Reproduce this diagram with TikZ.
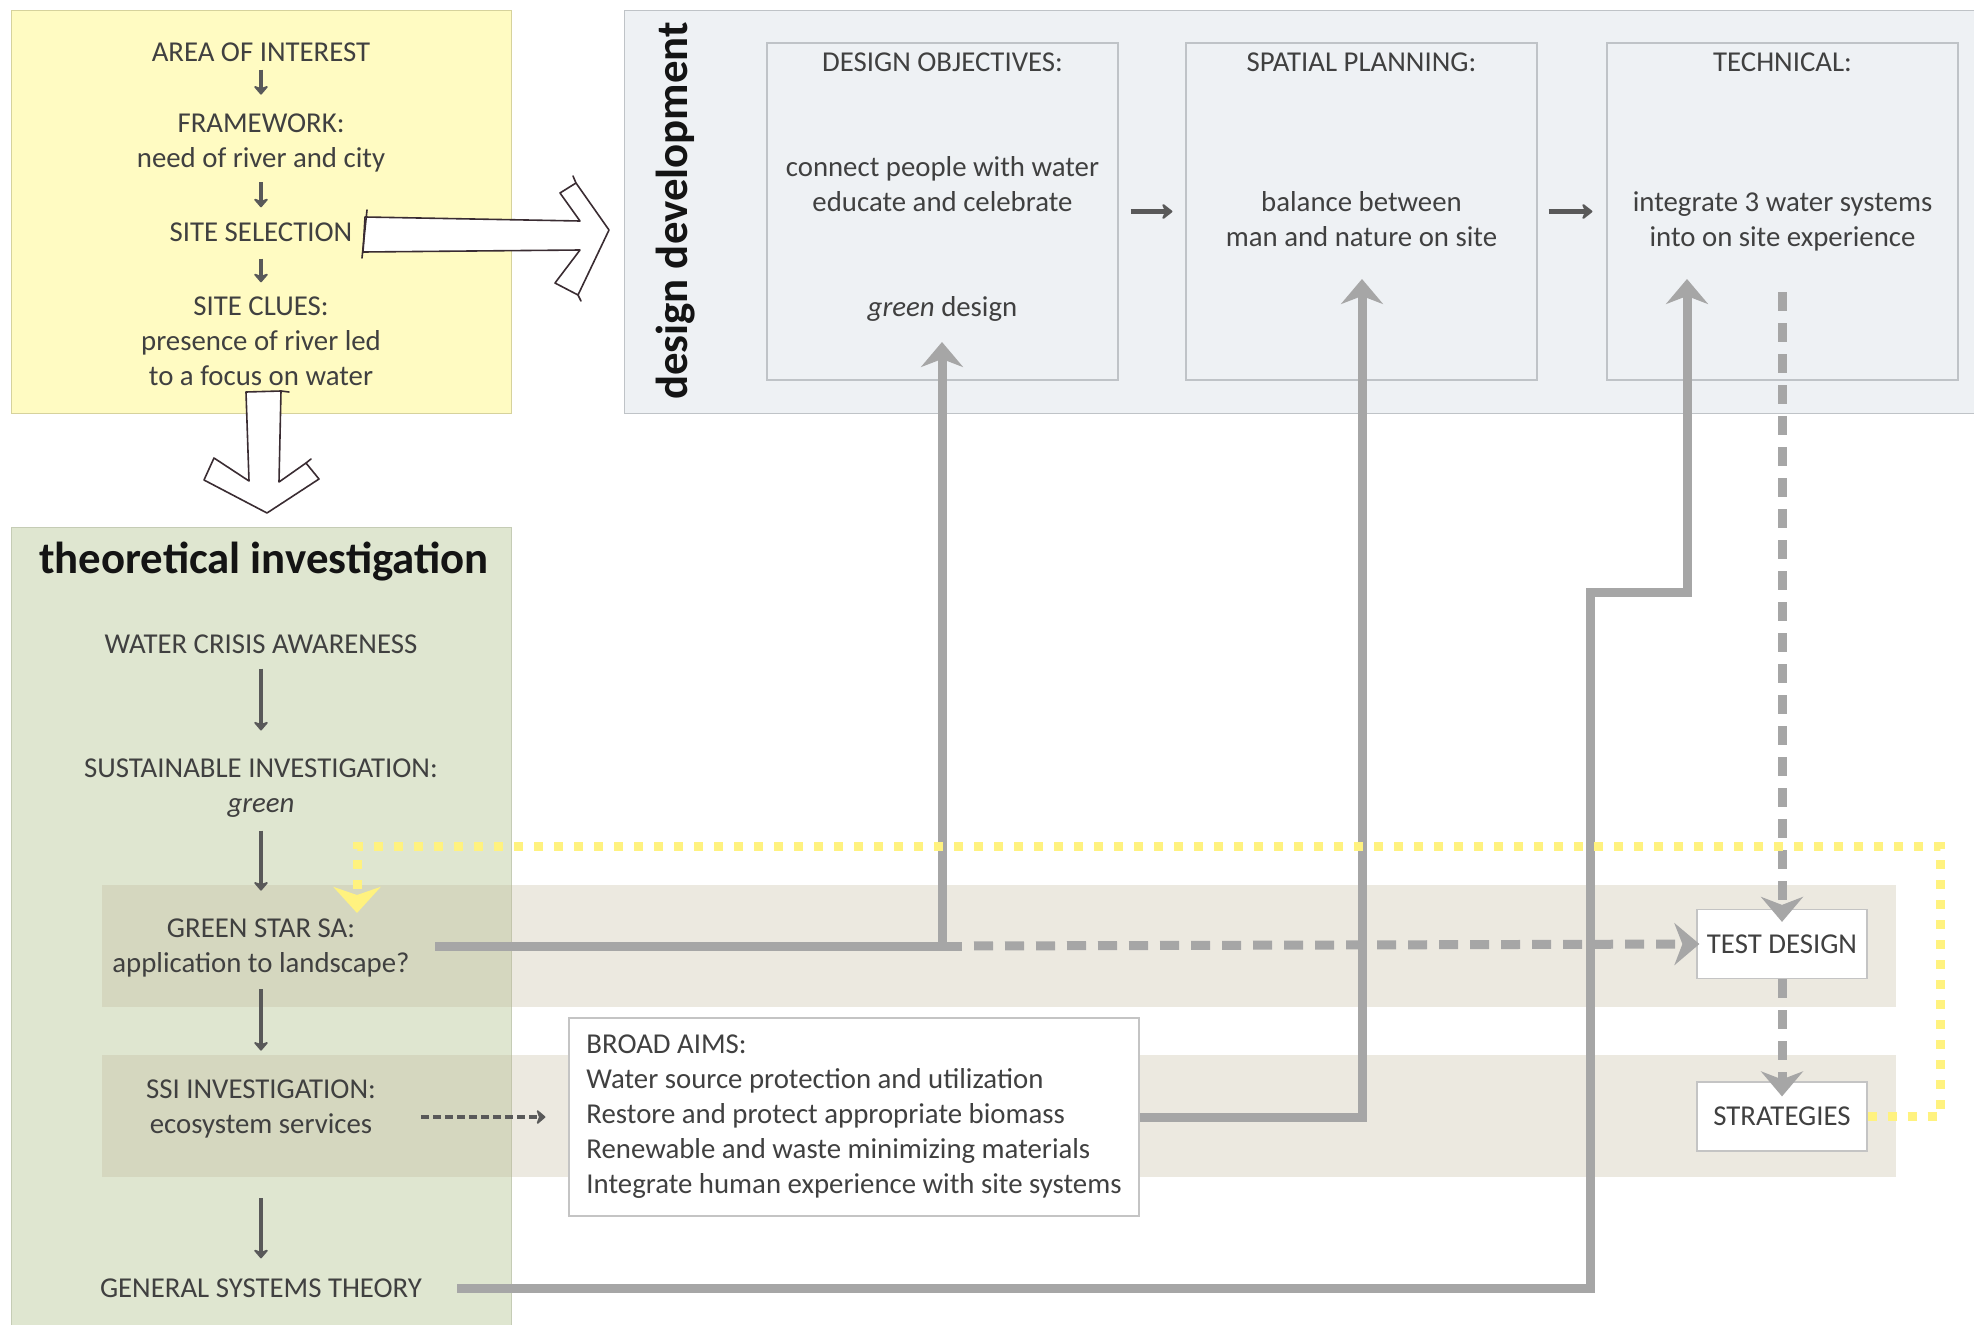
\documentclass[tikz,border=0pt]{standalone}
\usepackage{fontspec}
\setmainfont{Carlito}
\usetikzlibrary{arrows.meta,calc}

\definecolor{txt}{HTML}{404040}
\definecolor{yfill}{HTML}{FFFBC2}
\definecolor{yedge}{HTML}{D6D29C}
\definecolor{gfill}{HTML}{DFE6D0}
\definecolor{gedge}{HTML}{C5CCB5}
\definecolor{dfill}{HTML}{EEF1F4}
\definecolor{dedge}{HTML}{BFC3C7}
\definecolor{bandc}{HTML}{C0B698}
\definecolor{conn}{HTML}{A6A6A6}
\definecolor{darkarr}{HTML}{595959}
\definecolor{ydot}{HTML}{FFF27F}
\definecolor{hollowc}{HTML}{3A2C32}
\definecolor{wedge}{HTML}{C4C4C4}

\begin{document}
\begin{tikzpicture}[x=1pt,y=-1pt,
  txtnode/.style={inner sep=0pt, align=center, text=txt, font=\fontsize{28.8}{35}\selectfont},
  gtxtnode/.style={inner sep=0pt, align=center, text=txt, font=\fontsize{28.8}{35}\selectfont},
  titlenode/.style={inner sep=0pt, text=black!92, font=\bfseries\fontsize{44.8}{50}\selectfont},
  region/.style={inner sep=0pt, line width=1pt},
  innerbox/.style={draw=dedge, fill=dfill, line width=1.2pt, minimum width=351pt, minimum height=337pt, inner sep=0pt},
  whitebox/.style={draw=wedge, fill=white, line width=1.2pt, text=txt, font=\fontsize{28.8}{35}\selectfont},
  sarr/.style={darkarr, line width=3.5pt, -{Stealth[length=10pt,width=17pt,inset=3pt,round]}},
  harr/.style={darkarr, line width=5pt, -{Stealth[length=12pt,width=19pt,inset=4pt,round]}},
  gline/.style={conn, line width=9pt, line join=miter},
  gdash/.style={conn, line width=9pt, dash pattern=on 19pt off 12pt},
  gchev/.style={-{Stealth[length=25pt,width=42pt,inset=8pt]}},
  ssidash/.style={darkarr, line width=4pt, dash pattern=on 8pt off 4pt, -{Stealth[length=10pt,width=17pt,inset=3pt,round]}},
  ypath/.style={ydot, line width=9pt, dash pattern=on 9pt off 11pt, -{Stealth[length=26pt,width=47pt,inset=8pt]}},
  hollow/.style={draw=hollowc, fill=white, line width=1.6pt, line join=round},
  sketch/.style={draw=hollowc, line width=1.6pt, line cap=round}
]
\useasboundingbox (0,0) rectangle (1974,1325);

% ---------- regions ----------
\node[region, draw=yedge, fill=yfill, minimum width=500pt, minimum height=403pt] (yb) at (261,211.5) {};
\node[region, draw=dedge, fill=dfill, minimum width=1366pt, minimum height=403pt] (dd) at (1307,211.5) {};
\node[region, draw=gedge, fill=gfill, minimum width=500pt, minimum height=808pt] (tb) at (261,931) {};

% bands
\fill[bandc, opacity=.3] (102,885) rectangle (1896,1007);
\fill[bandc, opacity=.3] (102,1055) rectangle (1896,1177);

% ---------- yellow box ----------
\node[txtnode] (aoi) at (261,52) {AREA OF INTEREST};
\node[txtnode] (fw) at (261,143) {FRAMEWORK:\\need of river and city};
\node[txtnode] (ss) at (261,232) {SITE SELECTION};
\node[txtnode] (sc) at (261,341) {SITE CLUES:\\presence of river led\\to a focus on water};
\draw[sarr, shorten <=8pt, shorten >=19pt] (aoi) -- (fw);
\draw[sarr, shorten <=10pt, shorten >=15pt] (fw) -- (ss);
\draw[sarr, shorten <=17pt, shorten >=14pt] (ss) -- (sc);

% ---------- design development ----------
\node[titlenode, rotate=90] (ddT) at (676,211) {design development};
\node[innerbox] (do) at (942.5,211.5) {};
\node[innerbox] (sp) at (1361.5,211.5) {};
\node[innerbox] (tech) at (1782.5,211.5) {};
\node[txtnode] (doT) at (942.5,62) {DESIGN OBJECTIVES:};
\node[txtnode] (spT) at (1361.5,62) {SPATIAL PLANNING:};
\node[txtnode] (techT) at (1782.5,62) {TECHNICAL:};
\node[txtnode] (doB) at (942.5,184) {connect people with water\\educate and celebrate};
\node[txtnode] (doG) at (942.5,309) {\textit{green} design};
\node[txtnode] (spB) at (1361.5,219) {balance between\\man and nature on site};
\node[txtnode] (techB) at (1782.5,221) {integrate 3 water systems\\into on site experience};
\draw[harr, shorten <=12pt, shorten >=13pt] (do) -- (sp);
\draw[harr, shorten <=11pt, shorten >=14pt] (sp) -- (tech);

% ---------- theoretical investigation ----------
\node[titlenode] (tbT) at (264,562) {theoretical investigation};
\node[gtxtnode] (wca) at (261,644) {WATER CRISIS AWARENESS};
\node[gtxtnode] (si) at (261,788) {SUSTAINABLE INVESTIGATION:\\\textit{green}};
\node[gtxtnode] (gs) at (261,948) {GREEN STAR SA:\\application to landscape?};
\node[gtxtnode] (ssi) at (261,1109) {SSI INVESTIGATION:\\ecosystem services};
\node[gtxtnode] (gst) at (261,1288) {GENERAL SYSTEMS THEORY};
\draw[sarr, shorten <=15pt, shorten >=28pt] (wca) -- (si);
\draw[sarr, shorten <=13pt, shorten >=28pt] (si) -- (gs);
\draw[sarr, shorten <=12pt, shorten >=29pt] (gs) -- (ssi);
\draw[sarr, shorten <=60pt, shorten >=20pt] (ssi) -- (gst);

% ---------- right side boxes ----------
\node[whitebox, align=left, minimum width=570pt, minimum height=198pt, inner sep=0pt] (broad) at (854,1117)
  {BROAD AIMS:\\Water source protection and utilization\\Restore and protect appropriate biomass\\Renewable and waste minimizing materials\\Integrate human experience with site systems};
\node[whitebox, minimum width=170pt, minimum height=69pt, inner sep=0pt] (test) at (1782,944) {TEST DESIGN};
\node[whitebox, minimum width=170pt, minimum height=69pt, inner sep=0pt] (strat) at (1782,1116.5) {STRATEGIES};

% ---------- hollow (hand-drawn) arrows ----------
\draw[hollow] (365,217) -- (580,221) -- (560,193) -- (576,183) -- (609,230) -- (578,295) -- (555,283) -- (580,250) -- (363,252) -- cycle;
\draw[sketch] (367,210) -- (362,258);
\draw[sketch] (576,183) -- (573,176);
\draw[sketch] (578,295) -- (581,301);
\draw[hollow] (246,392) -- (281,391) -- (279,482) -- (306,463) -- (319,479) -- (267,513) -- (204,480) -- (214,458) -- (249,481) -- cycle;
\draw[sketch] (281,391) -- (289,392);
\draw[sketch] (306,463) -- (311,459);

% ---------- gray connectors ----------
\coordinate (gsout) at (435,946);
\coordinate (doin) at (942,342);
\coordinate (j1) at (962,946);
\coordinate (spin) at (1362,279);
\coordinate (gstout) at (457,1288);
\coordinate (techin) at (1687,279);
\coordinate (techout) at (1782,292);
\coordinate (ssiout) at (421,1117);
\coordinate (gsin) at (357,913);

\draw[gline] (gsout) -- (j1);
\draw[gline, gchev] (gsout) -| (doin);
\draw[gdash, dash phase=19pt, gchev] (j1) -- ([xshift=3pt]test.west);
\draw[gline, gchev] (broad.east) -| (spin);
\draw[gline, gchev] (gstout) -- (1590,1288) -- (1590,592) -| (techin);
\draw[gdash, gchev] (techout) -- ([yshift=-13pt]test.north);
\draw[gdash, gchev] (test.south) -- ([yshift=-15pt]strat.north);
\draw[ssidash] (ssiout) -- ([xshift=-23pt]broad.west);

% ---------- yellow feedback ----------
\draw[ypath] (strat.east) -| (1940,846) -| (gsin);

\end{tikzpicture}
\end{document}
